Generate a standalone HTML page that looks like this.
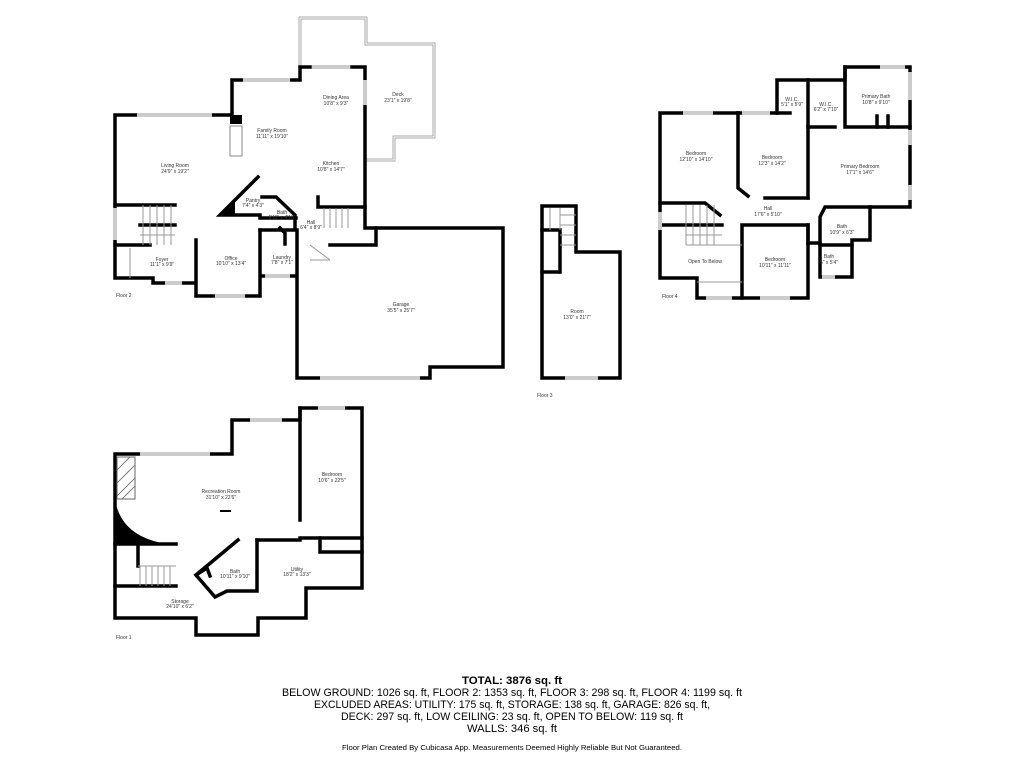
<!DOCTYPE html>
<html><head><style>
html,body{margin:0;padding:0;background:#fff;}
svg{display:block;}
.w{fill:none;stroke:#000;stroke-width:3.5;stroke-linejoin:miter;stroke-linecap:square;}
.l{fill:none;stroke:#999;stroke-width:1;}
.d{fill:none;stroke:#aaa;stroke-width:3;}
.d2{fill:none;stroke:#fff;stroke-width:1;}
.win{stroke:#ccc;stroke-width:4;}
text{font-family:"Liberation Sans",sans-serif;}
.r{font-size:5px;fill:#333;text-anchor:middle;}
.f{font-size:5px;fill:#333;}
</style></head><body>
<svg width="1024" height="768" viewBox="0 0 1024 768" xmlns="http://www.w3.org/2000/svg">
<rect width="1024" height="768" fill="#fff"/>
<!-- FLOOR 2 -->
<polyline points="300,66 300,18 366,18 366,44 434,44 434,137 394,137 394,160 366,160" class="d"/>
<polyline points="300,66 300,18 366,18 366,44 434,44 434,137 394,137 394,160 366,160" class="d2"/>
<polyline class="w" points="230,115 115,115 115,278 153,278 153,283 193,283"/>
<polyline class="w" points="232,115 232,80 300,80 300,67 310,67"/>
<polyline class="w" points="352,67 365,67 365,228 503,228 503,367 430,367 430,378 297,378 297,230"/>
<polyline class="w" points="318,197 318,207 365,207"/>
<polyline class="w" points="376,228 376,245 330,245"/>
<polyline class="w" points="196,240 196,296 260,296 260,230"/>
<polyline class="w" points="260,230 295,230 295,215 276,197 262,197"/>
<polyline class="w" points="258,177 220,215 260,215"/>
<polygon points="220,215 235,200 235,215" fill="#000"/>
<polyline class="w" points="260,218 296,218"/>
<polyline class="w" points="280,228 285,233 285,244"/>
<polyline class="w" points="261,276 296,276"/>
<polyline class="w" points="115,205 175,205"/>
<polyline class="w" points="140,225 175,225"/>
<polyline class="w" points="115,245 150,245"/>
<rect x="230" y="115" width="12" height="9" fill="#000"/>
<rect x="230" y="126" width="12" height="30" fill="none" stroke="#888" stroke-width="1"/>
<g class="l">
<line x1="143" y1="205" x2="143" y2="245"/><line x1="150" y1="205" x2="150" y2="245"/><line x1="157" y1="205" x2="157" y2="245"/><line x1="164" y1="205" x2="164" y2="245"/><line x1="171" y1="205" x2="171" y2="245"/>
<line x1="140" y1="235" x2="175" y2="235"/>
<line x1="324" y1="208" x2="324" y2="228"/><line x1="330" y1="208" x2="330" y2="228"/><line x1="336" y1="208" x2="336" y2="228"/><line x1="342" y1="208" x2="342" y2="228"/><line x1="348" y1="208" x2="348" y2="228"/>
<line x1="310" y1="245" x2="330" y2="260"/><line x1="310" y1="260" x2="330" y2="260"/>
<line x1="130" y1="248" x2="130" y2="278"/>
</g>
<g class="win">
<line x1="137" y1="115" x2="212" y2="115"/><line x1="243" y1="80" x2="290" y2="80"/><line x1="312" y1="67" x2="350" y2="67"/>
<line x1="365" y1="80" x2="365" y2="105"/><line x1="115" y1="208" x2="115" y2="240"/><line x1="165" y1="283" x2="182" y2="283"/>
<line x1="215" y1="296" x2="245" y2="296"/><line x1="265" y1="276" x2="290" y2="276"/><line x1="320" y1="378" x2="420" y2="378"/>
</g>
<text class="r" x="336" y="99">Dining Area</text><text class="r" x="336" y="105">10'8" x 9'3"</text>
<text class="r" x="398" y="96">Deck</text><text class="r" x="398" y="102">23'1" x 19'8"</text>
<text class="r" x="272" y="132">Family Room</text><text class="r" x="272" y="138">11'11" x 19'10"</text>
<text class="r" x="175" y="167">Living Room</text><text class="r" x="175" y="173">24'9" x 19'2"</text>
<text class="r" x="331" y="165">Kitchen</text><text class="r" x="331" y="171">10'8" x 14'7"</text>
<text class="r" x="253" y="202">Pantry</text><text class="r" x="253" y="207">7'4" x 4'3"</text>
<text class="r" x="282" y="214">Bath</text><text class="r" x="282" y="219">5'11" x 4'10"</text>
<text class="r" x="311" y="224">Hall</text><text class="r" x="311" y="229">6'4" x 8'9"</text>
<text class="r" x="162" y="261">Foyer</text><text class="r" x="162" y="266">11'1" x 9'9"</text>
<text class="r" x="231" y="260">Office</text><text class="r" x="231" y="265">10'10" x 13'4"</text>
<text class="r" x="282" y="259">Laundry</text><text class="r" x="282" y="264">7'8" x 7'1"</text>
<text class="r" x="401" y="306">Garage</text><text class="r" x="401" y="312">35'5" x 25'7"</text>
<text class="f" x="116" y="297">Floor 2</text>
<!-- FLOOR 3 -->
<polyline class="w" points="576,252 576,206 542,206 542,378 620,378 620,252 576,252"/>
<polyline class="w" points="542,230 560,230 560,272"/>
<polyline class="w" points="542,272 558,272"/>
<g class="l"><line x1="560" y1="215" x2="576" y2="215"/><line x1="560" y1="225" x2="576" y2="225"/><line x1="560" y1="235" x2="576" y2="235"/><line x1="560" y1="245" x2="576" y2="245"/><line x1="560" y1="208" x2="560" y2="230"/><line x1="550" y1="208" x2="550" y2="230"/></g>
<line class="win" x1="565" y1="378" x2="598" y2="378"/>
<text class="r" x="577" y="313">Room</text><text class="r" x="577" y="319">13'0" x 21'7"</text>
<text class="f" x="537" y="397">Floor 3</text>
<!-- FLOOR 4 -->
<polyline class="w" points="738,113 660,113 660,278 697,278 697,298 742,298"/>
<polyline class="w" points="742,298 742,225 808,225 808,298 742,298"/>
<polyline class="w" points="738,113 738,188 748,196"/>
<polyline class="w" points="738,113 777,113 777,80 845,80 845,67 910,67 910,207 870,207 870,240 852,240 852,277 820,277 820,243 808,243"/>
<polyline class="w" points="777,113 790,113"/>
<polyline class="w" points="808,80 808,125"/>
<polyline class="w" points="845,67 845,127 910,127"/>
<polyline class="w" points="808,127 835,127"/>
<line class="w" x1="877" y1="116" x2="877" y2="127"/><line class="w" x1="888" y1="116" x2="888" y2="127"/>
<polyline class="w" points="808,127 808,198"/>
<polyline class="w" points="765,198 808,198"/>
<polyline class="w" points="660,203 705,203 720,215"/>
<polyline class="w" points="660,225 722,225"/>
<polyline class="w" points="820,243 820,217 825,207 870,207"/>
<polyline class="w" points="808,225 808,243"/>
<polyline class="w" points="820,245 852,245"/>
<g class="l"><line x1="686" y1="205" x2="686" y2="245"/><line x1="693" y1="205" x2="693" y2="245"/><line x1="700" y1="205" x2="700" y2="245"/><line x1="707" y1="205" x2="707" y2="245"/><line x1="714" y1="205" x2="714" y2="245"/><line x1="686" y1="235" x2="722" y2="235"/><line x1="686" y1="245" x2="742" y2="245"/><line x1="697" y1="282" x2="742" y2="282"/></g>
<g class="win">
<line x1="683" y1="113" x2="713" y2="113"/><line x1="742" y1="113" x2="770" y2="113"/><line x1="880" y1="67" x2="905" y2="67"/>
<line x1="910" y1="72" x2="910" y2="100"/><line x1="910" y1="130" x2="910" y2="145"/><line x1="910" y1="185" x2="910" y2="200"/>
<line x1="660" y1="212" x2="660" y2="230"/><line x1="706" y1="298" x2="732" y2="298"/><line x1="760" y1="298" x2="790" y2="298"/><line x1="822" y1="277" x2="835" y2="277"/>
</g>
<text class="r" x="696" y="155">Bedroom</text><text class="r" x="696" y="161">12'10" x 14'10"</text>
<text class="r" x="772" y="159">Bedroom</text><text class="r" x="772" y="165">12'3" x 14'2"</text>
<text class="r" x="860" y="168">Primary Bedroom</text><text class="r" x="860" y="174">17'1" x 14'6"</text>
<text class="r" x="792" y="101">W.I.C.</text><text class="r" x="792" y="106">5'1" x 5'9"</text>
<text class="r" x="826" y="106">W.I.C.</text><text class="r" x="826" y="111">6'2" x 7'10"</text>
<text class="r" x="876" y="98">Primary Bath</text><text class="r" x="876" y="104">10'8" x 9'10"</text>
<text class="r" x="768" y="210">Hall</text><text class="r" x="768" y="216">17'6" x 5'10"</text>
<text class="r" x="842" y="228">Bath</text><text class="r" x="842" y="234">10'9" x 6'3"</text>
<text class="r" x="829" y="258">Bath</text><text class="r" x="829" y="264">5" x 5'4"</text>
<text class="r" x="775" y="261">Bedroom</text><text class="r" x="775" y="267">10'11" x 11'11"</text>
<text class="r" x="705" y="263">Open To Below</text>
<text class="f" x="662" y="298">Floor 4</text>
<!-- FLOOR 1 -->
<polyline class="w" points="115,454 115,618 196,618 196,635 258,635 258,618 306,618 306,588 362,588 362,408 300,408 300,420 232,420 232,454 115,454"/>
<polyline class="w" points="300,408 300,520"/>
<polyline class="w" points="300,538 362,538"/>
<polyline class="w" points="320,538 320,552 362,552"/>
<polyline class="w" points="257,540 300,540"/>
<polyline class="w" points="238,540 196,575 215,597 227,591 257,591 257,540"/>
<polyline class="w" points="196,575 207,568 210,576"/>
<polyline class="w" points="115,544 176,544"/>
<polyline class="w" points="138,544 138,566"/>
<polyline class="w" points="115,586 176,586"/>
<path d="M115,500 Q122,540 175,545 L115,545 Z" fill="#000"/>
<rect x="117" y="457" width="18" height="42" fill="none" stroke="#666" stroke-width="1"/>
<g stroke="#666" stroke-width="0.8"><line x1="117" y1="470" x2="130" y2="457"/><line x1="117" y1="483" x2="135" y2="465"/><line x1="117" y1="496" x2="135" y2="478"/><line x1="122" y1="499" x2="135" y2="486"/></g>
<g class="l"><line x1="140" y1="566" x2="140" y2="586"/><line x1="146" y1="566" x2="146" y2="586"/><line x1="152" y1="566" x2="152" y2="586"/><line x1="158" y1="566" x2="158" y2="586"/><line x1="164" y1="566" x2="164" y2="586"/><line x1="170" y1="566" x2="170" y2="586"/><line x1="138" y1="566" x2="176" y2="566"/></g>
<line x1="220" y1="511" x2="231" y2="511" stroke="#000" stroke-width="2"/>
<g class="win"><line x1="140" y1="454" x2="210" y2="454"/><line x1="250" y1="420" x2="282" y2="420"/><line x1="318" y1="408" x2="345" y2="408"/></g>
<text class="r" x="221" y="493">Recreation Room</text><text class="r" x="221" y="499">31'10" x 22'6"</text>
<text class="r" x="332" y="476">Bedroom</text><text class="r" x="332" y="482">10'6" x 22'5"</text>
<text class="r" x="235" y="573">Bath</text><text class="r" x="235" y="578">10'11" x 9'10"</text>
<text class="r" x="297" y="571">Utility</text><text class="r" x="297" y="576">18'2" x 13'3"</text>
<text class="r" x="180" y="603">Storage</text><text class="r" x="180" y="608">24'10" x 6'2"</text>
<text class="f" x="116" y="639">Floor 1</text>
<!-- SUMMARY -->
<text x="512" y="684" text-anchor="middle" font-size="11" font-weight="bold" textLength="100" lengthAdjust="spacingAndGlyphs">TOTAL: 3876 sq. ft</text>
<text x="512" y="696" text-anchor="middle" font-size="11" textLength="460" lengthAdjust="spacingAndGlyphs">BELOW GROUND: 1026 sq. ft, FLOOR 2: 1353 sq. ft, FLOOR 3: 298 sq. ft, FLOOR 4: 1199 sq. ft</text>
<text x="512" y="708" text-anchor="middle" font-size="11" textLength="396" lengthAdjust="spacingAndGlyphs">EXCLUDED AREAS: UTILITY: 175 sq. ft, STORAGE: 138 sq. ft, GARAGE: 826 sq. ft,</text>
<text x="512" y="720" text-anchor="middle" font-size="11" textLength="342" lengthAdjust="spacingAndGlyphs">DECK: 297 sq. ft, LOW CEILING: 23 sq. ft, OPEN TO BELOW: 119 sq. ft</text>
<text x="512" y="732" text-anchor="middle" font-size="11" textLength="90" lengthAdjust="spacingAndGlyphs">WALLS: 346 sq. ft</text>
<text x="512" y="750" text-anchor="middle" font-size="7" textLength="340" lengthAdjust="spacingAndGlyphs">Floor Plan Created By Cubicasa App. Measurements Deemed Highly Reliable But Not Guaranteed.</text>
</svg>
</body></html>
